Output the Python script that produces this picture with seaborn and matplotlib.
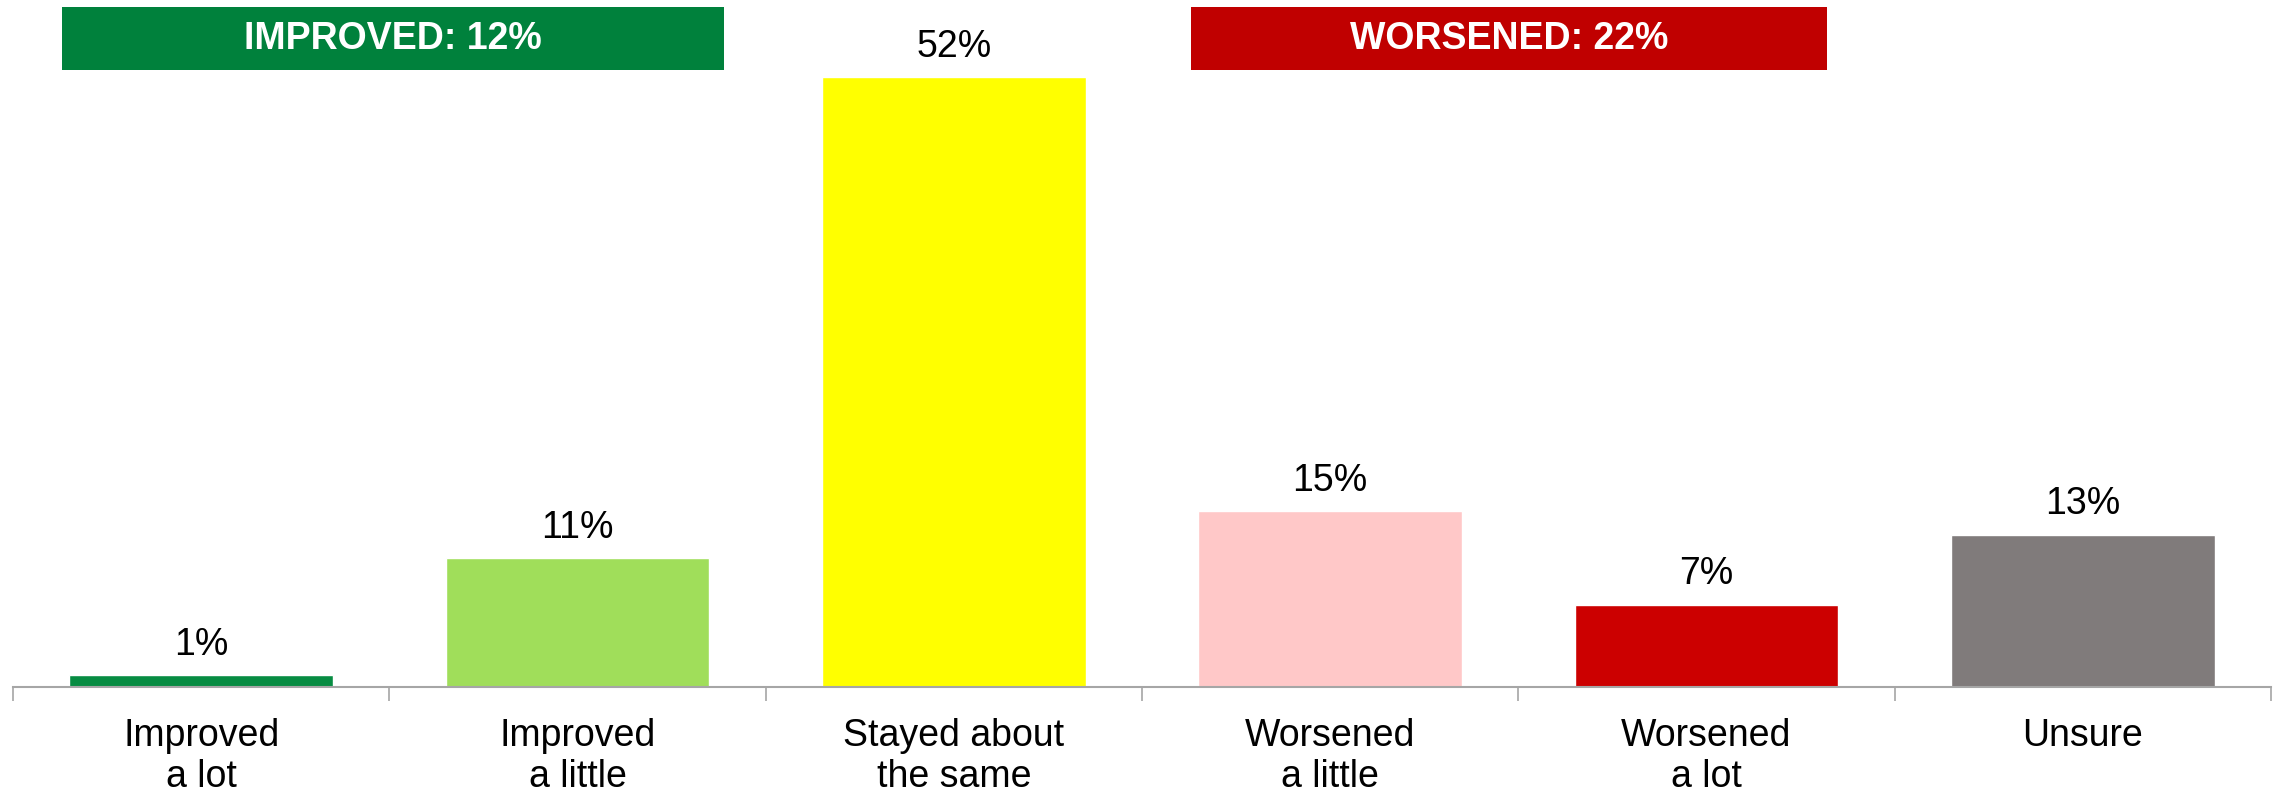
import pandas as pd
import numpy as np
import seaborn as sns
from matplotlib import pyplot as plt
from matplotlib.patches import Rectangle

categories = ["Improved\na lot", "Improved\na little", "Stayed about\nthe same",
              "Worsened\na little", "Worsened\na lot", "Unsure"]
values = [1, 11, 52, 15, 7, 13]
bar_colors = ["#078C42", "#A0DE5A", "#FFFF00", "#FFC8C8", "#CC0000", "#807B7B"]
header_labels = ["IMPROVED: 12%", "WORSENED: 22%"]
header_colors = ["#00813C", "#C00000"]

df = pd.DataFrame({"Categoria": categories, "Valore": values})

sns.set_style("white")
plt.rcParams["font.family"] = ["Liberation Sans", "DejaVu Sans"]
plt.rcParams["text.color"] = "black"
plt.rcParams["xtick.color"] = "black"

fig = plt.figure(figsize=(22.77, 7.91), dpi=100)
ax = fig.add_axes([13 / 2277, 104 / 791, 2258 / 2277, 687 / 791])

sns.barplot(data=df, x="Categoria", y="Valore", hue="Categoria", palette=bar_colors,
            width=0.7, legend=False, ax=ax, saturation=1)

for i, v in enumerate(values):
    ax.annotate(f"{v}%", (i, v), xytext=(0, 9), textcoords="offset points",
                ha="center", va="bottom", fontsize=27, color="black")

# header boxes
boxes = [(-0.37, 1.39), (2.63, 4.32)]
for (x0, x1), lab, col in zip(boxes, header_labels, header_colors):
    ax.add_patch(Rectangle((x0, 52.6), x1 - x0, 5.4, facecolor=col, edgecolor="none", clip_on=False))
    ax.text((x0 + x1) / 2, 55.3, lab, ha="center", va="center", color="white",
            fontsize=27, fontweight="bold")

ax.set_xlim(-0.5, 5.5)
ax.set_ylim(0, 58.6)
ax.set_yticks([])
ax.set_xlabel("")
ax.set_ylabel("")
for s in ["top", "left", "right"]:
    ax.spines[s].set_visible(False)
ax.spines["bottom"].set_color("#A6A6A6")
ax.spines["bottom"].set_linewidth(1.5)

ax.set_xticks(np.arange(-0.5, 6, 1), minor=True)
ax.tick_params(axis="x", which="minor", length=10, color="#A6A6A6", width=1.2, direction="out", bottom=True)
ax.tick_params(axis="x", which="major", length=0, pad=22, labelsize=27, labelcolor="black")
for t in ax.get_xticklabels():
    t.set_linespacing(1.2)

fig.savefig("out.png", dpi=100)
